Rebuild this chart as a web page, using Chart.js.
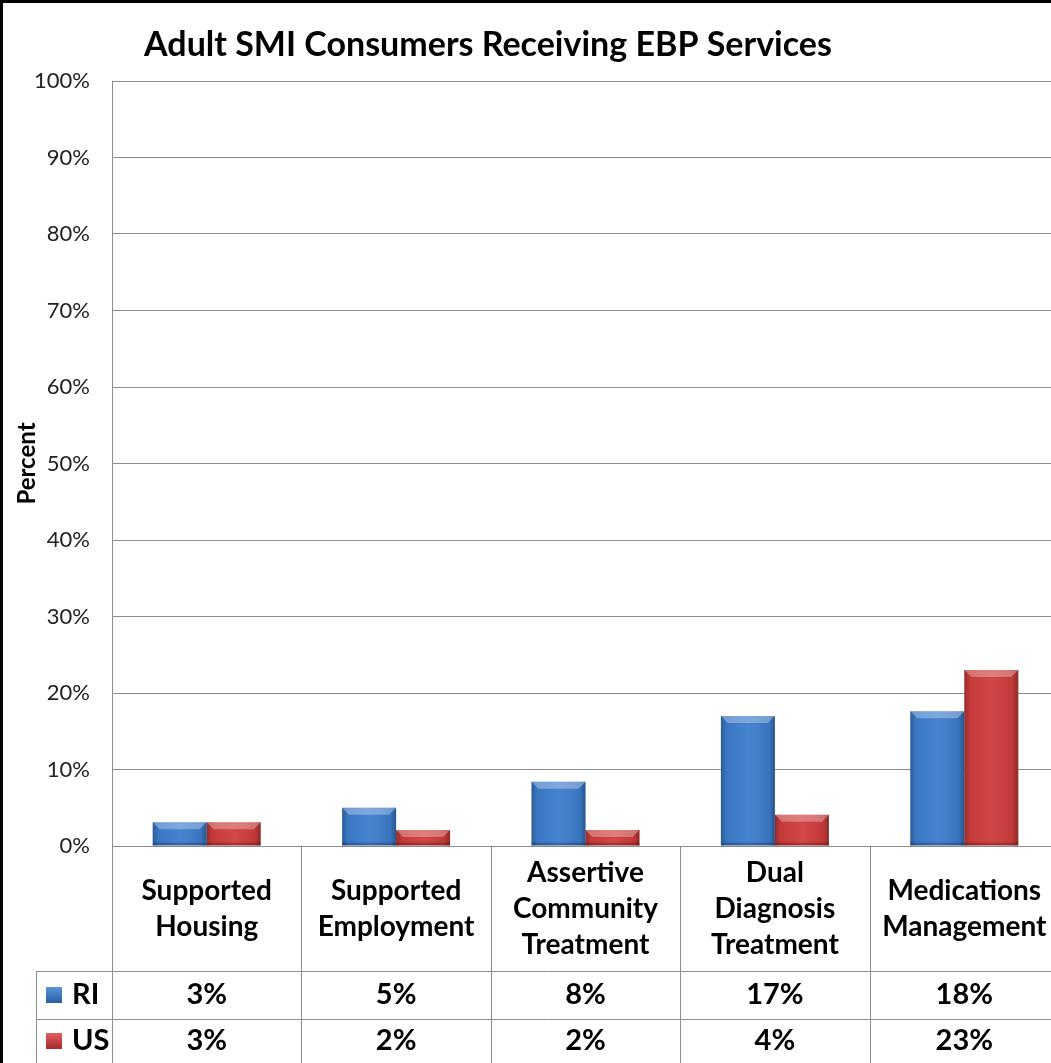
<!DOCTYPE html>
<html>
<head>
<meta charset="utf-8">
<script src="https://cdn.jsdelivr.net/npm/chart.js@4.4.0/dist/chart.umd.min.js"></script>
<style>
  body { margin: 0; overflow: hidden; background: #fff; }
  #box { position: absolute; left: 0; top: 0; width: 1056px; height: 1060px;
         border-left: 3px solid #000; border-top: 3px solid #000; }
</style>
</head>
<body>
<div id="box"><canvas id="grafico" width="1056" height="1060"></canvas></div>
<script>
const title = 'Adult SMI Consumers Receiving EBP Services'
const categories = [
    ['Supported', 'Housing'],
    ['Supported', 'Employment'],
    ['Assertive', 'Community', 'Treatment'],
    ['Dual', 'Diagnosis', 'Treatment'],
    ['Medications', 'Management']
]
const seriesNames = ['RI', 'US']
const riValues = [3.1, 5.0, 8.4, 17.0, 17.6]
const usValues = [3.1, 2.1, 2.1, 4.1, 23.0]
const riLabels = ['3%', '5%', '8%', '17%', '18%']
const usLabels = ['3%', '2%', '2%', '4%', '23%']
const colors = ['#3d7dcd', '#cf3c3c']

const FONT = 'Lato, "DejaVu Sans", sans-serif'
const gridColor = '#8c8c8c'

// bevel look on the bars, drawn over the library's own bar elements
const bevel = {
    id: 'bevel',
    afterDatasetsDraw(chart) {
        const ctx = chart.ctx
        chart.data.datasets.forEach((ds, di) => {
            chart.getDatasetMeta(di).data.forEach(bar => {
                const l = bar.x - bar.width / 2, r = bar.x + bar.width / 2
                const t = bar.y, b = bar.base
                const h = b - t
                const g = ctx.createLinearGradient(l, 0, r, 0)
                g.addColorStop(0, 'rgba(0,0,0,0.28)')
                g.addColorStop(0.1, 'rgba(0,0,0,0.05)')
                g.addColorStop(0.5, 'rgba(255,255,255,0.05)')
                g.addColorStop(0.9, 'rgba(0,0,0,0.08)')
                g.addColorStop(1, 'rgba(0,0,0,0.32)')
                ctx.save()
                ctx.fillStyle = g
                ctx.fillRect(l, t, r - l, h)
                const bv = Math.min(7, h / 2)
                ctx.fillStyle = 'rgba(255,255,255,0.3)'
                ctx.beginPath()
                ctx.moveTo(l, t); ctx.lineTo(r, t); ctx.lineTo(r - bv, t + bv); ctx.lineTo(l + bv, t + bv)
                ctx.closePath(); ctx.fill()
                ctx.fillStyle = 'rgba(0,0,0,0.2)'
                ctx.fillRect(l, b - 3, r - l, 3)
                ctx.restore()
            })
        })
    }
}

// chart title plus the data table under the plot
const table = {
    id: 'table',
    afterDraw(chart) {
        const ctx = chart.ctx
        const xa = chart.scales.x
        const area = chart.chartArea
        const n = categories.length
        const half = (xa.getPixelForValue(1) - xa.getPixelForValue(0)) / 2
        const y0 = area.bottom, y1 = y0 + 125, y2 = y0 + 173, y3 = chart.height
        const keyLeft = 33
        ctx.save()
        ctx.fillStyle = '#000'
        ctx.textAlign = 'center'
        ctx.textBaseline = 'middle'
        ctx.font = 'bold 34px ' + FONT
        ctx.fillText(title, 485, 42)

        ctx.strokeStyle = gridColor
        ctx.lineWidth = 1
        ctx.beginPath()
        for (let i = 0; i <= n; i++) {
            const x = Math.round(xa.getPixelForValue(i) - half) + 0.5
            ctx.moveTo(x, y0); ctx.lineTo(x, y3)
        }
        ctx.moveTo(keyLeft + 0.5, y1); ctx.lineTo(keyLeft + 0.5, y3)
        ctx.moveTo(keyLeft, y1 + 0.5); ctx.lineTo(chart.width, y1 + 0.5)
        ctx.moveTo(keyLeft, y2 + 0.5); ctx.lineTo(chart.width, y2 + 0.5)
        ctx.stroke()

        ctx.font = 'bold 28px ' + FONT
        categories.forEach((lines, i) => {
            const cx = xa.getPixelForValue(i)
            const cy = (y0 + y1) / 2
            lines.forEach((s, k) => {
                ctx.fillText(s, cx, cy + (k - (lines.length - 1) / 2) * 36)
            })
        })
        ctx.font = 'bold 29px ' + FONT
        const rows = [[riLabels, y1 + 24], [usLabels, y2 + 22]]
        rows.forEach(([labels, cy], r) => {
            labels.forEach((s, i) => ctx.fillText(s, xa.getPixelForValue(i), cy))
            const key = ctx.createLinearGradient(0, cy - 8, 0, cy + 8)
            key.addColorStop(0, r ? '#e06060' : '#5a95dd')
            key.addColorStop(1, r ? '#a82a2a' : '#2c5fa3')
            ctx.fillStyle = key
            ctx.fillRect(keyLeft + 10, cy - 8, 16, 16)
            ctx.fillStyle = '#000'
            ctx.textAlign = 'left'
            ctx.fillText(seriesNames[r], keyLeft + 36, cy)
            ctx.textAlign = 'center'
        })
        ctx.restore()
    }
}

const grafico = document.getElementById('grafico')

new Chart(grafico, {
    type: 'bar',
    data: {
        labels: categories.map(c => c.join(' ')),
        datasets: [
            { label: seriesNames[0], data: riValues, backgroundColor: colors[0] },
            { label: seriesNames[1], data: usValues, backgroundColor: colors[1] }
        ]
    },
    options: {
        responsive: false,
        animation: false,
        devicePixelRatio: 1,
        layout: { padding: { top: 78, left: 0, right: 0, bottom: 0 } },
        datasets: { bar: { categoryPercentage: 0.57, barPercentage: 1 } },
        plugins: {
            legend: { display: false },
            tooltip: { enabled: false }
        },
        scales: {
            x: {
                ticks: { display: false },
                grid: { display: false },
                border: { color: gridColor },
                afterFit: s => { s.height = 217 }
            },
            y: {
                min: 0,
                max: 100,
                ticks: {
                    stepSize: 10,
                    padding: 22,
                    color: '#222',
                    font: { family: FONT, size: 22 },
                    callback: v => v + '%'
                },
                grid: { color: gridColor, drawTicks: false },
                border: { color: gridColor },
                title: {
                    display: true,
                    text: 'Percent',
                    color: '#000',
                    font: { family: FONT, size: 24, weight: 'bold' },
                    padding: { top: 10, bottom: 0 }
                },
                afterFit: s => { s.width = 109 }
            }
        }
    },
    plugins: [bevel, table]
})
</script>
</body>
</html>
